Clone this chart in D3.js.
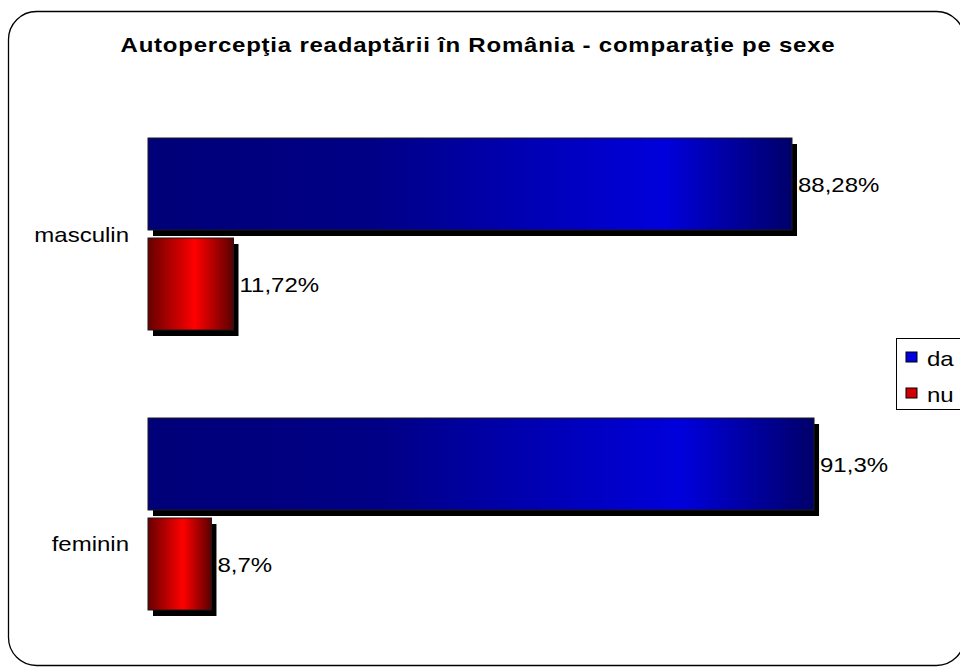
<!DOCTYPE html>
<html><head><meta charset="utf-8">
<script src="https://cdn.jsdelivr.net/npm/d3@7"></script>
<style>
html,body{margin:0;padding:0;background:#fff;}
svg{display:block;}
text{font-family:Arial,"Liberation Sans",sans-serif;fill:#000;}
</style></head>
<body>
<svg id="chart" width="960" height="667"></svg>
<script>
const title = "Autopercepţia readaptării în România - comparaţie pe sexe";
const categories = ["masculin", "feminin"];
const series = ["da", "nu"];
const daValues = [88.28, 91.3];
const nuValues = [11.72, 8.7];
const valueLabels = {da: ["88,28%", "91,3%"], nu: ["11,72%", "8,7%"]};

const svg = d3.select("#chart");
const SX = 1.2; // horizontal stretch of the original picture's text

function stretchedText(g, x, y, str, opts) {
  opts = opts || {};
  const t = g.append("text")
    .attr("transform", `translate(${x},${y}) scale(${opts.sx || SX},1)`)
    .attr("text-anchor", opts.anchor || "start")
    .style("font-size", (opts.size || 20) + "px")
    .style("font-weight", opts.weight || "normal")
    .text(str);
  if (opts.ls) t.style("letter-spacing", opts.ls + "px");
  return t;
}

const defs = svg.append("defs");
const gradDefs = {
  da: [["0%", "#000078"], ["35%", "#000086"], ["80%", "#0000dc"], ["100%", "#00006a"]],
  nu: [["0%", "#680000"], ["55%", "#ff0000"], ["100%", "#5a0000"]]
};
Object.entries(gradDefs).forEach(([k, stops]) => {
  const lg = defs.append("linearGradient").attr("id", "g-" + k)
    .attr("x1", "0").attr("y1", "0").attr("x2", "1").attr("y2", "0");
  stops.forEach(s => lg.append("stop").attr("offset", s[0]).attr("stop-color", s[1]));
});

// frame
svg.append("rect").attr("x", 8.5).attr("y", 11.5).attr("width", 956).attr("height", 654)
  .attr("rx", 28).attr("ry", 28).attr("fill", "#fff").attr("stroke", "#000").attr("stroke-width", 1.3);

// title
stretchedText(svg, 478, 52, title, {anchor: "middle", weight: "bold", size: 20, ls: 0.65});

const x = d3.scaleLinear().domain([0, 100]).range([148, 877.5]);
const y0 = d3.scaleBand().domain(categories).range([94, 654]);
const y1 = d3.scaleBand().domain(series).range([44, 236]).paddingInner(0.08);

const data = categories.map((c, i) => ({cat: c, vals: [
  {s: "da", v: daValues[i], label: valueLabels.da[i]},
  {s: "nu", v: nuValues[i], label: valueLabels.nu[i]}
]}));

const groups = svg.selectAll("g.cat").data(data).join("g").attr("class", "cat")
  .attr("transform", d => `translate(0,${y0(d.cat)})`);

const bars = groups.selectAll("g.bar").data(d => d.vals).join("g").attr("class", "bar");
// shadow
bars.append("rect")
  .attr("x", x(0) + 5).attr("y", d => y1(d.s) + 6)
  .attr("width", d => x(d.v) - x(0)).attr("height", y1.bandwidth())
  .attr("fill", "#000");
bars.append("rect")
  .attr("x", x(0)).attr("y", d => y1(d.s))
  .attr("width", d => x(d.v) - x(0)).attr("height", y1.bandwidth())
  .attr("fill", d => `url(#g-${d.s})`).attr("stroke", "#1a1a1a").attr("stroke-width", 1);
bars.each(function(d) {
  stretchedText(d3.select(this), x(d.v) + 6, y1(d.s) + y1.bandwidth() / 2 + 8, d.label, {size: 20});
});

// category labels (the original places the second label somewhat lower)
const catLabelShift = [0, 29];
categories.forEach((c, i) => {
  stretchedText(svg, 129, y0(c) + y0.bandwidth() / 2 + 8 + catLabelShift[i], c, {anchor: "end", size: 20});
});

// legend
const lg = svg.append("g");
lg.append("rect").attr("x", 896.5).attr("y", 338.5).attr("width", 70).attr("height", 71)
  .attr("fill", "#fff").attr("stroke", "#000").attr("stroke-width", 1);
const legendFill = {da: "#0000e0", nu: "#d00000"};
series.forEach((s, i) => {
  const yy = 352 + i * 36;
  lg.append("rect").attr("x", 906).attr("y", yy).attr("width", 11).attr("height", 10)
    .attr("fill", legendFill[s]).attr("stroke", "#000").attr("stroke-width", 1);
  stretchedText(lg, 927, yy + 14, s, {size: 20});
});
</script>
</body></html>
